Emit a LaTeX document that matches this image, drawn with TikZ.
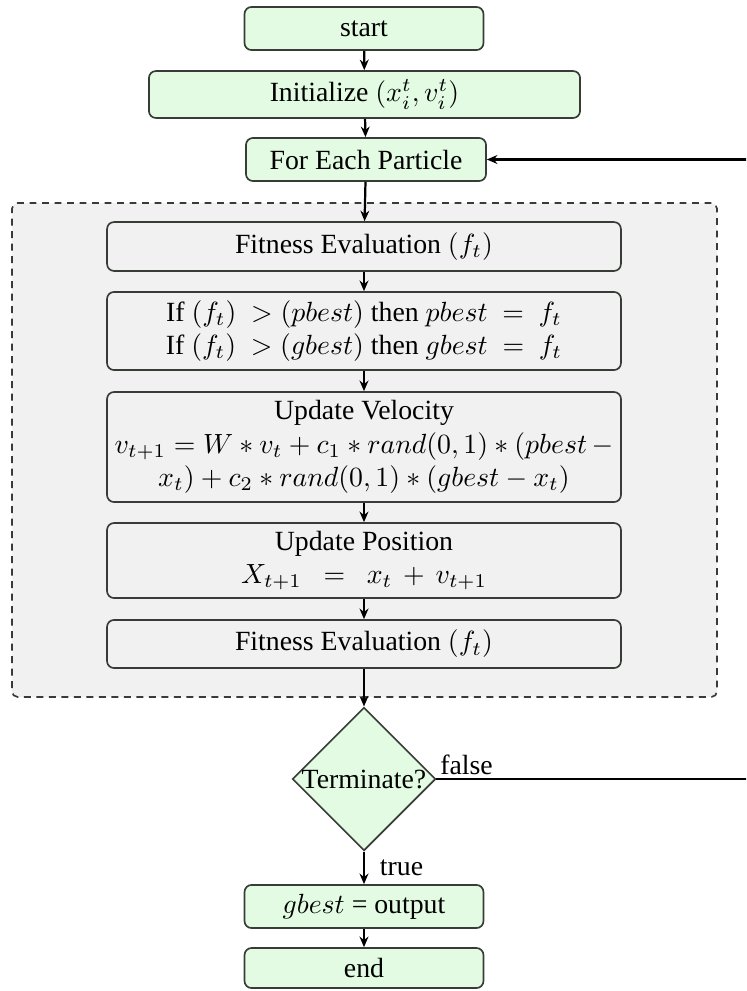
\documentclass[tikz,border=0pt]{standalone}
\usepackage[no-math]{fontspec}
\setmainfont{Liberation Serif}
\usetikzlibrary{shapes.geometric,arrows.meta}
\definecolor{boxgreen}{RGB}{226,251,226}
\definecolor{boxgray}{RGB}{241,241,241}
\definecolor{edgecol}{RGB}{55,60,55}
\begin{document}
\begin{tikzpicture}[x=0.36pt,y=-0.36pt,
  gbox/.style={draw=edgecol, line width=0.6pt, fill=boxgreen, rounded corners=2.5pt,
    minimum width=86pt, minimum height=15.5pt, inner sep=2pt, align=center},
  pbox/.style={draw=edgecol, line width=0.6pt, fill=boxgray, rounded corners=2.5pt,
    minimum width=185pt, inner sep=2pt, align=center},
  grpbox/.style={draw=edgecol, line width=0.6pt, fill=boxgray, rounded corners=2pt,
    dash pattern=on 2.5pt off 2pt, minimum width=253.8pt, minimum height=177.8pt},
  arr/.style={-{Stealth[length=3.8pt,width=3.2pt]}, line width=0.8pt},
]
\useasboundingbox (0,0) rectangle (746,991);
\clip (0,0) rectangle (746,991);

\node[grpbox] (grp) at (364.5,450) {};

\node[gbox] (start) at (364,28.5) {start};
\node[gbox, minimum width=155.2pt, minimum height=16.9pt] (init) at (364.5,94.5) {Initialize $(x_i^t, v_i^t)$};
\node[gbox, minimum width=86.4pt] (each) at (366,159.5) {For Each Particle};
\node[pbox, minimum height=17.6pt] (fit1) at (364,246.5) {Fitness Evaluation $(f_t)$};
\node[pbox, minimum height=28.1pt] (cond) at (364,331) {If $(f_t)\ >(pbest)$ then $pbest\ =\ f_t$\\If $(f_t)\ >(gbest)$ then $gbest\ =\ f_t$};
\node[pbox, minimum height=39.6pt] (vel) at (364,447) {Update Velocity\\$v_{t+1}=W*v_t+c_1*rand(0,1)*(pbest\,-$\\$x_t)+c_2*rand(0,1)*(gbest-x_t)$};
\node[pbox, minimum height=27pt] (pos) at (364,560.5) {Update Position\\$X_{t+1}\enspace=\enspace x_t\,+\,v_{t+1}$};
\node[pbox, minimum height=17.3pt] (fit2) at (364,644) {Fitness Evaluation $(f_t)$};
\node[diamond, aspect=1, draw=edgecol, fill=boxgreen, line width=0.6pt, inner sep=0pt,
  minimum width=51pt, minimum height=50pt] (term) at (364,779) {Terminate?};
\node[gbox] (out) at (364,906.5) {$gbest$ = output};
\node[gbox, minimum height=14.4pt] (end) at (364,968) {end};

\coordinate (rt) at (752,779);

\draw[arr] (start) -- (init);
\draw[arr] (init) -- (each);
\draw[arr] (each) -- (fit1);
\draw[arr] (fit1) -- (cond);
\draw[arr] (cond) -- (vel);
\draw[arr] (vel) -- (pos);
\draw[arr] (pos) -- (fit2);
\draw[arr] (fit2) -- (term);
\draw[arr] (term) -- node[right, xshift=2pt] (tlab) {true} (out);
\draw[arr] (out) -- (end);
\draw[arr] (term.east) -- node[pos=0, anchor=south west, inner sep=1pt] (flab) {false} (rt) |- (each.east);
\end{tikzpicture}
\end{document}
